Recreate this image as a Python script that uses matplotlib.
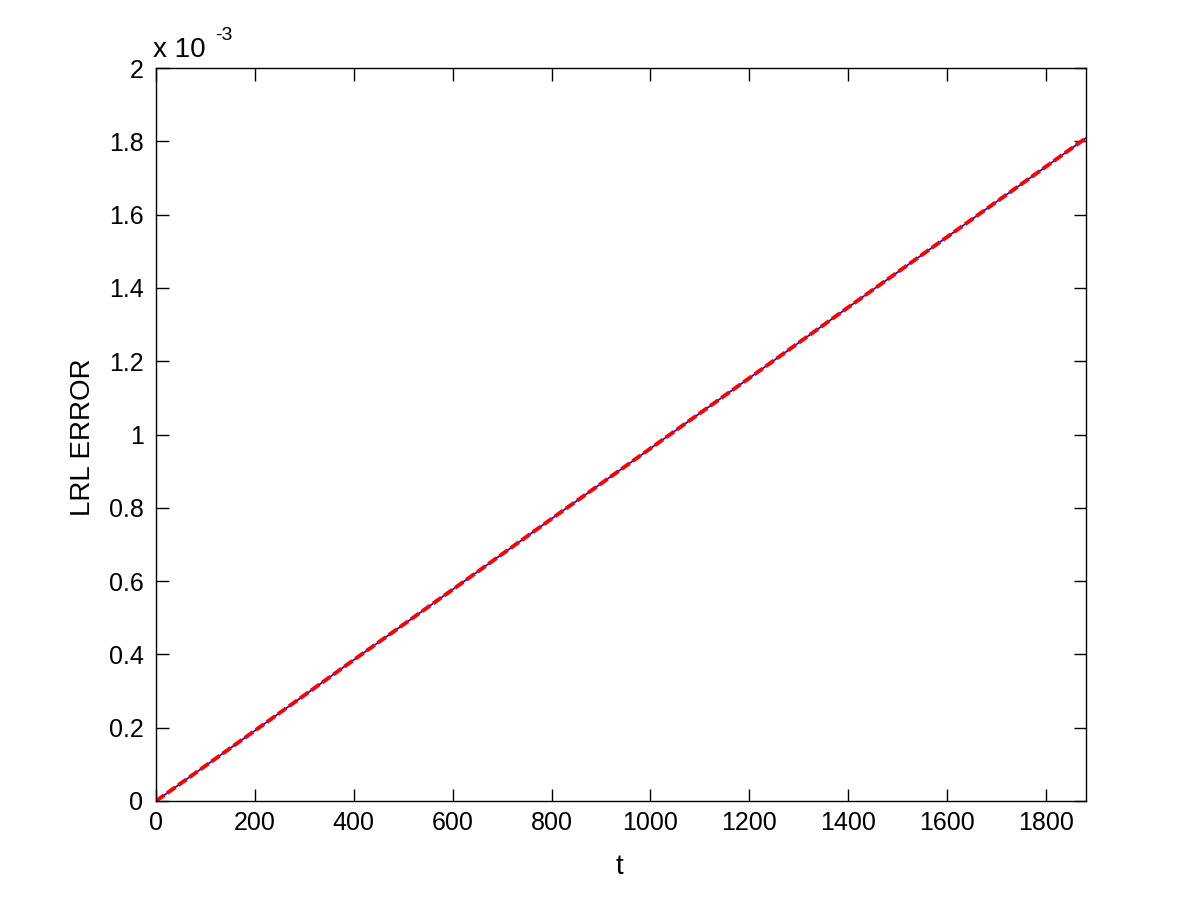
import numpy as np
import matplotlib
matplotlib.use("Agg")
import matplotlib.pyplot as plt

# values (error in units of 1e-3)
t = [0, 200, 400, 600, 800, 1000, 1200, 1400, 1600, 1800, 1881]
err_ref = [0, 0.192, 0.385, 0.577, 0.770, 0.962, 1.154, 1.347, 1.539, 1.731, 1.809]
err_num = [0, 0.192, 0.385, 0.577, 0.770, 0.962, 1.154, 1.347, 1.539, 1.731, 1.809]

x_ticks = [0, 200, 400, 600, 800, 1000, 1200, 1400, 1600, 1800]
y_ticks = [0, 0.2, 0.4, 0.6, 0.8, 1.0, 1.2, 1.4, 1.6, 1.8, 2.0]
y_labels = ["0", "0.2", "0.4", "0.6", "0.8", "1", "1.2", "1.4", "1.6", "1.8", "2"]

plt.rcParams['font.family'] = ['Liberation Sans', 'DejaVu Sans']

fig = plt.figure(figsize=(12, 9.01), dpi=100)
ax = fig.add_axes([0.13, 0.111, 0.775, 0.8135])

ax.plot(t, err_ref, color='blue', linewidth=1.2)
ax.plot(t, err_num, color='red', linewidth=2.8, linestyle=(0, (2.6, 0.9)))

ax.set_xlim(0, 1881)
ax.set_ylim(0, 2)
ax.set_xticks(x_ticks)
ax.set_yticks(y_ticks)
ax.set_yticklabels(y_labels)
ax.tick_params(direction='in', top=True, right=True, length=9, width=1,
               labelsize=18)
ax.tick_params(axis='x', pad=7)
ax.tick_params(axis='y', pad=9)
for s in ax.spines.values():
    s.set_linewidth(1)

ax.set_xlabel("t", fontsize=20, va='center')
ax.xaxis.set_label_coords(0.498, -0.090)
ax.set_ylabel("LRL ERROR", fontsize=20, va='center')
ax.yaxis.set_label_coords(-0.0785, 0.496)

# MATLAB style exponent above the y axis
ax.text(-0.003, 1.015, "x 10", transform=ax.transAxes, fontsize=20,
        ha='left', va='baseline')
ax.text(0.0634, 1.038, "-3", transform=ax.transAxes, fontsize=14,
        ha='left', va='baseline')

fig.savefig("out.png", dpi=100)
